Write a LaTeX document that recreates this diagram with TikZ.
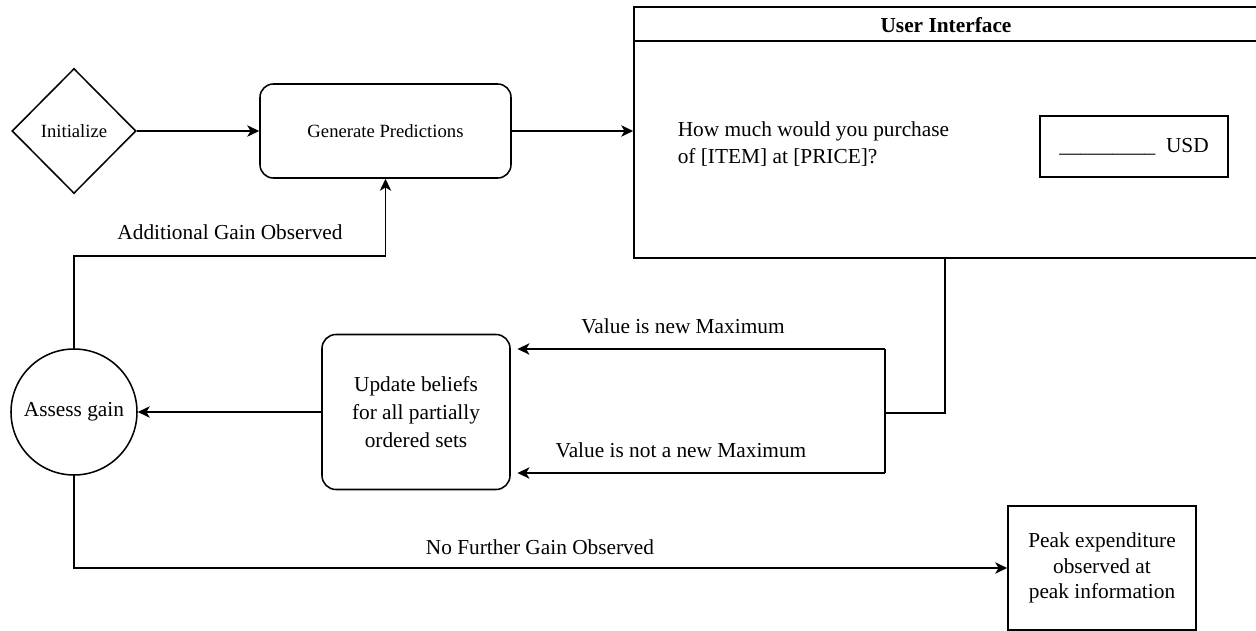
\documentclass[tikz,border=0pt]{standalone}
\usepackage{fontspec}
\setmainfont{Liberation Serif}
\usetikzlibrary{shapes.geometric,arrows.meta}
\begin{document}
\begin{tikzpicture}[x=0.75pt,y=-0.75pt, line width=1.15pt,
  base/.style={draw=black, line width=1.15pt, font=\fontsize{16}{20}\selectfont, align=center, inner sep=0pt},
  arr/.style={-{Stealth[length=9pt,width=8.5pt,inset=2.5pt]}, line width=1.15pt},
  lbl/.style={font=\fontsize{16}{20}\selectfont, inner sep=0pt}]
\useasboundingbox (0,0) rectangle (1256,631);
\clip (0,0) rectangle (1256,631);
% nodes
\node[base, diamond, minimum width=93pt, minimum height=93.75pt, font=\fontsize{14}{17}\selectfont] (init) at (74,131) {Initialize};
\node[base, rounded corners=10pt, minimum width=188.25pt, minimum height=70.5pt, font=\fontsize{14}{17}\selectfont] (gen) at (385.5,131) {Generate Predictions};
\node[base, minimum width=471pt, minimum height=188.25pt] (ui) at (948,132.5) {};
\draw ([yshift=-26.25pt]ui.north west) -- ([yshift=-26.25pt]ui.north east);
\node[lbl, font=\bfseries\fontsize{16}{20}\selectfont] (uit) at (946,25) {User Interface};
\node[lbl, anchor=west, align=left, font=\fontsize{16}{20.25}\selectfont] (q) at (677,144.5) {How much would you purchase\\of [ITEM] at [PRICE]?};
\node[base, minimum width=141pt, minimum height=45.75pt] (usd) at (1134,146.5) {\_\_\_\_\_\_\_\_\_~~USD};
\node[base, rounded corners=10.5pt, minimum width=141pt, minimum height=116.25pt, font=\fontsize{16}{21}\selectfont] (upd) at (416,412) {Update beliefs\\for all partially\\ordered sets};
\node[base, circle, minimum size=94.5pt] (assess) at (74,412) {Assess gain};
\node[base, minimum width=141pt, minimum height=93pt, font=\fontsize{16}{19}\selectfont] (peak) at (1102,568) {Peak expenditure\\observed at\\peak information};
% junction coordinates
\coordinate (jm) at (885,413);
\coordinate (jt) at (885,349);
\coordinate (jb) at (885,473);
% connectors
\draw[arr] (init.east) -- (gen.west);
\draw[arr] (gen.east) -- (gen.east -| ui.west);
\draw ([xshift=-2.25pt]ui.south) |- (jm);
\draw (jt) -- (jb);
\draw[arr, shorten >=5pt] (jt) -- (jt -| upd.east);
\draw[arr, shorten >=5pt] (jb) -- (jb -| upd.east);
\draw[arr] (upd.west) -- (upd.west -| assess.east);
\draw[arr] (assess.north) -- ++(0,-92) -| (gen.south);
\draw[arr] (assess.south) |- (peak.west);
% labels
\node[lbl] (l1) at (230,232) {Additional Gain Observed};
\node[lbl] (l2) at (540,547) {No Further Gain Observed};
\node[lbl] (l3) at (683,326) {Value is new Maximum};
\node[lbl] (l4) at (681,450) {Value is not a new Maximum};
\end{tikzpicture}
\end{document}
